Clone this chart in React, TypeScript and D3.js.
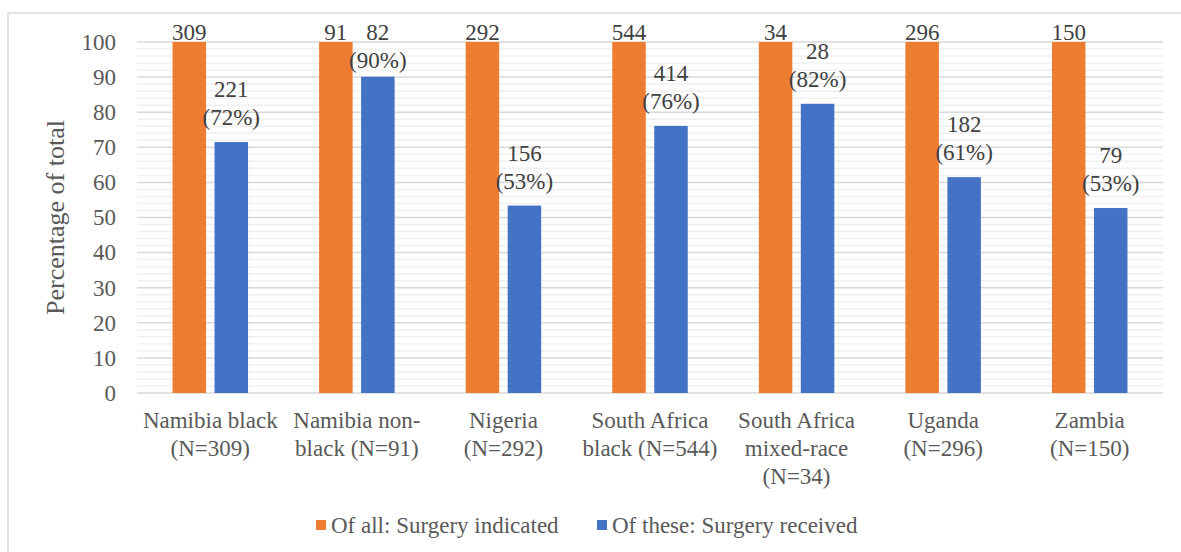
import React from "react";
import * as d3 from "d3";

const categories: string[][] = [
  ["Namibia black", "(N=309)"],
  ["Namibia non-", "black (N=91)"],
  ["Nigeria", "(N=292)"],
  ["South Africa", "black (N=544)"],
  ["South Africa", "mixed-race", "(N=34)"],
  ["Uganda", "(N=296)"],
  ["Zambia", "(N=150)"],
];

const indicatedN = [309, 91, 292, 544, 34, 296, 150];
const receivedN = [221, 82, 156, 414, 28, 182, 79];
const indicatedPct = [100, 100, 100, 100, 100, 100, 100];
const receivedPct = [71.5, 90.1, 53.4, 76.1, 82.4, 61.5, 52.7];
const receivedLabel = ["72%", "90%", "53%", "76%", "82%", "61%", "53%"];

const yTicks = [0, 10, 20, 30, 40, 50, 60, 70, 80, 90, 100];
const minorTicks = d3.range(0, 101, 2).filter((v) => v % 10 !== 0);

const seriesNames = ["Of all: Surgery indicated", "Of these: Surgery received"];
const colors = ["#ED7D31", "#4472C4"];

const W = 1181;
const H = 552;
const font = "Liberation Serif, DejaVu Serif, serif";

export default function App() {
  const left = 137;
  const right = 1163;
  const top = 42;
  const bottom = 393;

  const x = d3
    .scaleBand<number>()
    .domain(d3.range(categories.length))
    .range([left, right])
    .padding(0);
  const y = d3.scaleLinear().domain([0, 100]).range([bottom, top]);

  const barW = 33.5;
  const gap = 8.5;
  const fs = 23;
  const lineH = 28;
  const tStyle = { fontFamily: font };

  const labelBase = (topY: number, nLines: number) => {
    let last = topY - 17;
    let first = last - lineH * (nLines - 1);
    if (first < 40) {
      const shift = 40 - first;
      first += shift;
      last += shift;
    }
    return first;
  };

  return (
    <svg
      width={W}
      height={H}
      style={{ position: "fixed", left: 0, top: 0, background: "#fff", fontFamily: font }}
    >
      <rect x={0} y={0} width={W} height={H} fill="#fff" />
      {/* chart border */}
      <rect x={8} y={13} width={W + 20} height={H + 20} fill="none" stroke="#d9d9d9" strokeWidth={1.5} />

      {/* gridlines */}
      {minorTicks.map((t) => (
        <line key={"m" + t} x1={left} x2={right} y1={y(t)} y2={y(t)} stroke="#f0f0f0" strokeWidth={1.5} />
      ))}
      {yTicks.map((t) => (
        <line key={"g" + t} x1={left} x2={right} y1={y(t)} y2={y(t)} stroke="#d9d9d9" strokeWidth={1.5} />
      ))}

      {/* y tick labels */}
      {yTicks.map((t) => (
        <text key={"t" + t} x={116} y={y(t)} dy="0.34em" textAnchor="end" fontSize={fs} fill="#595959" style={tStyle}>
          {t}
        </text>
      ))}

      <text
        transform={`translate(64, ${(top + bottom) / 2}) rotate(-90)`}
        textAnchor="middle"
        fontSize={26}
        fill="#595959"
        style={tStyle}
      >
        Percentage of total
      </text>

      {categories.map((cat, i) => {
        const cx = (x(i) as number) + x.bandwidth() / 2;
        const ox = cx - gap / 2 - barW;
        const bx = cx + gap / 2;
        const oTop = y(indicatedPct[i]);
        const bTop = y(receivedPct[i]);
        const oBase = labelBase(oTop, 1);
        const bBase = labelBase(bTop, 2);
        return (
          <g key={i}>
            <rect x={ox} y={oTop} width={barW} height={bottom - oTop} fill={colors[0]} />
            <rect x={bx} y={bTop} width={barW} height={bottom - bTop} fill={colors[1]} />
            <text x={ox + barW / 2} y={oBase} textAnchor="middle" fontSize={fs} fill="#404040" style={tStyle}>
              {indicatedN[i]}
            </text>
            <text x={bx + barW / 2} y={bBase} textAnchor="middle" fontSize={fs} fill="#404040" style={tStyle}>
              <tspan x={bx + barW / 2}>{receivedN[i]}</tspan>
              <tspan x={bx + barW / 2} dy={lineH}>
                ({receivedLabel[i]})
              </tspan>
            </text>
            <text x={cx} y={428} textAnchor="middle" fontSize={fs} fill="#595959" style={tStyle}>
              {cat.map((line, k) => (
                <tspan key={k} x={cx} dy={k === 0 ? 0 : lineH}>
                  {line}
                </tspan>
              ))}
            </text>
          </g>
        );
      })}

      {/* legend */}
      {seriesNames.map((name, i) => {
        const lx = i === 0 ? 316 : 597;
        return (
          <g key={name}>
            <rect x={lx} y={520} width={10} height={10} fill={colors[i]} />
            <text x={lx + 15} y={525} dy="0.34em" fontSize={fs} fill="#595959" style={tStyle}>
              {name}
            </text>
          </g>
        );
      })}
    </svg>
  );
}
